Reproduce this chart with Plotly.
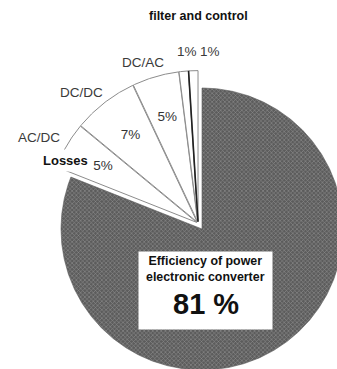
import numpy as np
import plotly.graph_objects as go

# Energy balance of a power electronic converter, in percent
stages = ["Efficiency", "AC/DC", "DC/DC", "DC/AC", "filter", "control"]
shares = [81, 5, 7, 5, 1, 1]
efficiency = shares[0]

# Canvas and pie geometry (pixel space, y grows downward)
W, H = 337, 369
CX, CY = 202, 229
R_MAIN = 141
R_LOSS = 151
GROUP_PULL = 7.0
SLICE_PULL = 1.6
FONT = "Liberation Sans, Arial, sans-serif"


def polar(theta_deg, rho, ox, oy):
    t = np.radians(theta_deg)
    return ox + rho * np.sin(t), oy - rho * np.cos(t)


def wedge(t0, t1, rho, ox, oy):
    n = max(int(abs(t1 - t0) * 2), 6)
    th = np.linspace(t0, t1, n)
    xs, ys = polar(th, rho, ox, oy)
    return np.r_[ox, xs, ox], np.r_[oy, ys, oy]


# cumulative angles, clockwise from 12 o'clock
edges = np.r_[0, np.cumsum(shares)] * 3.6

fig = go.Figure()

# efficiency slice
gx, gy = wedge(edges[0], edges[1], R_MAIN, CX, CY)
fig.add_trace(go.Scatter(
    x=gx, y=gy, mode="lines", fill="toself",
    fillcolor="#6a6a6a",
    fillpattern=dict(shape="x", size=3, solidity=0.35,
                     fgcolor="#8e8e8e", bgcolor="#5c5c5c", fillmode="replace"),
    line=dict(color="#5a5a5a", width=0.6),
    hoverinfo="skip", showlegend=False))

# exploded loss slices
loss_start, loss_end = edges[1], edges[-1]
gdx, gdy = polar((loss_start + loss_end) / 2, GROUP_PULL, 0, 0)
ox0, oy0 = CX + gdx, CY + gdy

lab_x, lab_y, lab_t = [], [], []
for i in range(1, len(shares)):
    t0, t1 = edges[i], edges[i + 1]
    mid = (t0 + t1) / 2
    px, py = polar(mid, SLICE_PULL, 0, 0)
    ox, oy = ox0 + px, oy0 + py
    wx, wy = wedge(t0, t1, R_LOSS, ox, oy)
    fig.add_trace(go.Scatter(
        x=wx, y=wy, mode="lines", fill="toself", fillcolor="white",
        line=dict(color="#8c8c8c", width=1),
        hoverinfo="skip", showlegend=False))
    if i == len(shares) - 1:
        # darker radial edge on the last slice
        ex, ey = polar(np.array([t0, t0]), np.array([0, R_LOSS]), ox, oy)
        fig.add_trace(go.Scatter(
            x=ex, y=ey, mode="lines", line=dict(color="#222222", width=1.6),
            hoverinfo="skip", showlegend=False))
    if shares[i] >= 5:
        lx, ly = polar(mid, 0.72 * R_LOSS, ox, oy)
        lab_x.append(lx)
        lab_y.append(ly)
        lab_t.append(f"{shares[i]}%")

fig.add_trace(go.Scatter(
    x=lab_x, y=lab_y, mode="text", text=lab_t,
    textfont=dict(family=FONT, size=13.5, color="#333333"),
    hoverinfo="skip", showlegend=False))

# outside captions
grey = "#3a3a3a"
annots = [
    dict(x=39, y=137, text=stages[1], font=dict(size=13.5, color=grey)),
    dict(x=81, y=92, text=stages[2], font=dict(size=13.5, color=grey)),
    dict(x=143, y=62, text=stages[3], font=dict(size=13.5, color=grey)),
    dict(x=187, y=51, text=f"{shares[4]}%", font=dict(size=13.5, color=grey)),
    dict(x=210, y=51, text=f"{shares[5]}%", font=dict(size=13.5, color=grey)),
    dict(x=198, y=16, text=f"<b>{stages[4]} and {stages[5]}</b>",
         font=dict(size=12.5, color="#111111")),
    dict(x=65, y=160, text="<b>Losses</b>", font=dict(size=13, color="#111111"),
         bgcolor="white", borderpad=3),
]
for a in annots:
    a["font"]["family"] = FONT
    fig.add_annotation(xref="x", yref="y", showarrow=False, **a)

# efficiency box
fig.add_annotation(
    xref="x", yref="y", x=205.5, y=290.5, text=" ", showarrow=False,
    width=133, height=77, bgcolor="white", borderpad=0,
)
fig.add_annotation(
    xref="x", yref="y", x=205.5, y=269,
    text="<b>Efficiency of power<br>electronic converter</b>",
    showarrow=False, font=dict(family=FONT, size=12.4, color="#111111"),
)
fig.add_annotation(
    xref="x", yref="y", x=205.5, y=304, text=f"<b>{efficiency} %</b>",
    showarrow=False, font=dict(family=FONT, size=29, color="#111111"),
)

fig.update_layout(
    width=W, height=H, margin=dict(l=0, r=0, t=0, b=0),
    paper_bgcolor="white", plot_bgcolor="white",
    xaxis=dict(range=[0, W], visible=False, fixedrange=True),
    yaxis=dict(range=[H, 0], visible=False, fixedrange=True),
)

fig.write_html("out.html")
